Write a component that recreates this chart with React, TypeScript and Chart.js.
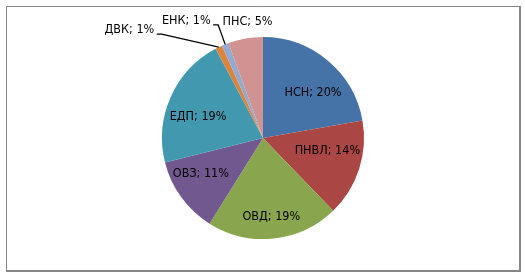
import React, { useEffect, useRef } from "react";
import { Chart, registerables } from "chart.js";

Chart.register(...registerables);

const categories = ["НСН", "ПНВЛ", "ОВД", "ОВЗ", "ЕДП", "ДВК", "ЕНК", "ПНС"];
const shares = [20, 14, 19, 11, 19, 1, 1, 5];
const colors = ["#4572A7", "#AA4643", "#89A54E", "#71588F", "#4198AF", "#DB843D", "#93A9CF", "#D19392"];

// label placement per slice (relative to slice geometry)
const placement: any[] = [
  { mode: "inside", f: 0.666, da: 8 },
  { mode: "inside", f: 0.65, da: -6.6 },
  { mode: "inside", f: 0.786, da: 0 },
  { mode: "inside", f: 0.71, da: 6 },
  { mode: "inside", f: 0.676, da: -6.1 },
  { mode: "leader", dx: -57, dy: -13 },
  { mode: "leader", dx: -7, dy: -19.5 },
  { mode: "inside", f: 1.16, da: 2.4 },
];

const FONT = "12.5px 'DejaVu Sans Condensed', 'Liberation Sans', sans-serif";

const labelPlugin = {
  id: "pieLabels",
  afterDatasetsDraw(chart: any) {
    const ctx = chart.ctx;
    const meta = chart.getDatasetMeta(0);
    ctx.save();
    ctx.font = FONT;
    ctx.fillStyle = "#000";
    ctx.strokeStyle = "#000";
    ctx.lineWidth = 1.3;
    meta.data.forEach((arc: any, i: number) => {
      const { x, y, startAngle, endAngle, outerRadius } = arc.getProps(
        ["x", "y", "startAngle", "endAngle", "outerRadius"],
        true
      );
      const mid = (startAngle + endAngle) / 2;
      const text = `${categories[i]}; ${shares[i]}%`;
      const p = placement[i];
      if (p.mode === "leader") {
        const ex = x + Math.cos(mid) * outerRadius;
        const ey = y + Math.sin(mid) * outerRadius;
        const bx = ex + p.dx;
        const by = ey + p.dy;
        const hx = bx - 5;
        ctx.beginPath();
        ctx.moveTo(ex, ey);
        ctx.lineTo(bx, by);
        ctx.lineTo(hx, by);
        ctx.stroke();
        ctx.textAlign = "right";
        ctx.textBaseline = "middle";
        ctx.fillText(text, hx - 2.5, by - 4);
      } else {
        const a = mid + (p.da * Math.PI) / 180;
        const lx = x + Math.cos(a) * outerRadius * p.f;
        const ly = y + Math.sin(a) * outerRadius * p.f;
        ctx.textAlign = "center";
        ctx.textBaseline = "middle";
        ctx.fillText(text, lx, ly);
      }
    });
    ctx.restore();
  },
};

const framePlugin = {
  id: "frame",
  afterDraw(chart: any) {
    const ctx = chart.ctx;
    ctx.save();
    ctx.strokeStyle = "#868686";
    ctx.lineWidth = 1;
    ctx.beginPath();
    ctx.moveTo(6.5, 271);
    ctx.lineTo(6.5, 6.5);
    ctx.lineTo(520, 6.5);
    ctx.stroke();
    ctx.lineWidth = 2;
    ctx.beginPath();
    ctx.moveTo(520, 6);
    ctx.lineTo(520, 271);
    ctx.lineTo(6, 271);
    ctx.stroke();
    ctx.restore();
  },
};

export default function App() {
  const ref = useRef<HTMLCanvasElement | null>(null);
  useEffect(() => {
    document.body.style.margin = "0";
    const chart = new Chart(ref.current as HTMLCanvasElement, {
      type: "pie",
      data: {
        labels: categories,
        datasets: [
          {
            data: shares,
            backgroundColor: colors,
            borderWidth: 0,
          },
        ],
      },
      options: {
        responsive: false,
        animation: false,
        layout: { padding: { top: 37, bottom: 37, left: 1, right: 0 } },
        plugins: {
          legend: { display: false },
          tooltip: { enabled: false },
          title: { display: false },
        },
      },
      plugins: [labelPlugin, framePlugin],
    });
    return () => chart.destroy();
  }, []);
  return (
    <div style={{ width: 525, height: 276, background: "#fff" }}>
      <canvas ref={ref} width={525} height={276} style={{ display: "block" }} />
    </div>
  );
}
